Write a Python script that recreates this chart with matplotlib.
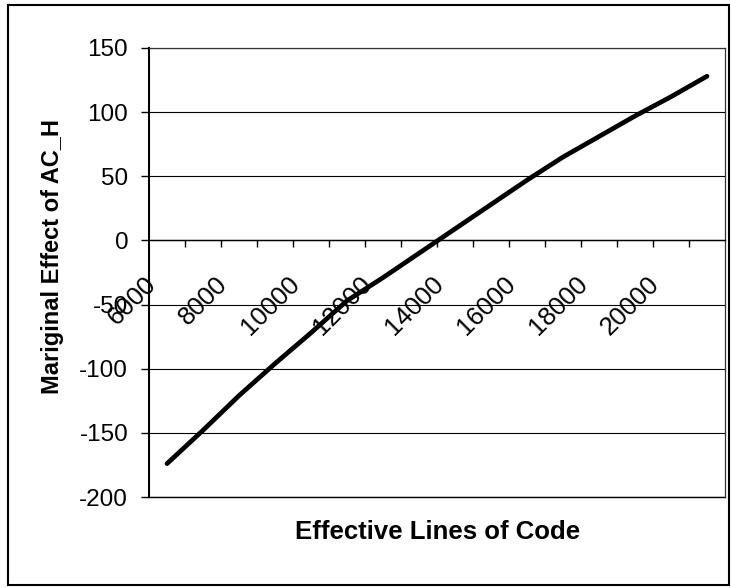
import numpy as np
import matplotlib
matplotlib.use("Agg")
import matplotlib.pyplot as plt
from matplotlib.patches import Rectangle
from matplotlib.transforms import ScaledTranslation

# Data
lines_of_code = [6000, 7000, 8000, 9000, 10000, 11000, 12000, 13000,
                 14000, 15000, 16000, 17000, 18000, 19000, 20000, 21000]
marginal_effect = [-174, -148, -121, -96, -72, -47, -29, -10,
                   9, 28, 47, 65, 81, 97, 112, 128]
y_ticks = [-200, -150, -100, -50, 0, 50, 100, 150]
x_label = "Effective Lines of Code"
y_label = "Mariginal Effect of AC_H"

plt.rcParams['font.family'] = ['Liberation Sans', 'DejaVu Sans']

W, H = 731, 588
fig = plt.figure(figsize=(W / 100, H / 100), dpi=100)
L, R, T, B = 149, 725, 48, 497
ax = fig.add_axes([L / W, 1 - B / H, (R - L) / W, (B - T) / H])

x = np.arange(len(lines_of_code))
ax.plot(x, marginal_effect, color='black', lw=3.4, solid_capstyle='round',
        solid_joinstyle='round', zorder=5)

ax.set_xlim(-0.5, len(lines_of_code) - 0.5)
ax.set_ylim(min(y_ticks), max(y_ticks))
ax.set_yticks(y_ticks)
ax.set_yticklabels([str(v) for v in y_ticks])
ax.yaxis.grid(True, color='black', lw=0.8)
ax.axhline(min(y_ticks), color='black', lw=1.0, clip_on=False, zorder=1)
ax.set_axisbelow(True)

# spines
ax.spines['bottom'].set_position(('data', 0))
ax.spines['bottom'].set_linewidth(1.0)
ax.spines['left'].set_linewidth(1.5)
for s in ('top', 'right'):
    ax.spines[s].set_linewidth(0.9)
    ax.spines[s].set_color('#333333')

# x ticks: marks at category boundaries, labels at centres of every other category
ax.set_xticks(np.arange(0.5, len(lines_of_code) - 0.5, 1.0))
ax.set_xticklabels([])
ax.tick_params(axis='x', which='major', direction='out', length=5, width=1)
ax.set_xticks(x[::2], minor=True)
ax.set_xticklabels([str(v) for v in lines_of_code[::2]], minor=True)
ax.tick_params(axis='x', which='minor', length=0, pad=29, labelsize=18.5)
offset = ScaledTranslation(-15 / 100, 0, fig.dpi_scale_trans)
for lab in ax.get_xticklabels(minor=True):
    lab.set_rotation(45)
    lab.set_ha('right')
    lab.set_va('center')
    lab.set_rotation_mode('anchor')
    lab.set_transform(lab.get_transform() + offset)

ax.tick_params(axis='y', direction='out', length=6, width=1, pad=9, labelsize=17.5)

ax.set_ylabel(y_label, fontsize=17, fontweight='bold')
ax.yaxis.label.set_va('center')
ax.yaxis.set_label_coords((53 - L) / (R - L), (B - 256) / (B - T))
ax.set_xlabel(x_label, fontsize=18.5, fontweight='bold')
ax.xaxis.label.set_va('center')
ax.xaxis.set_label_coords((438 - L) / (R - L), (B - 532) / (B - T))

fig.patches.append(Rectangle((8 / W, 1 - 585 / H), (729 - 8) / W, (585 - 5) / H,
                             transform=fig.transFigure, fill=False,
                             ec='black', lw=1.5))

fig.savefig("out.png", dpi=100)
